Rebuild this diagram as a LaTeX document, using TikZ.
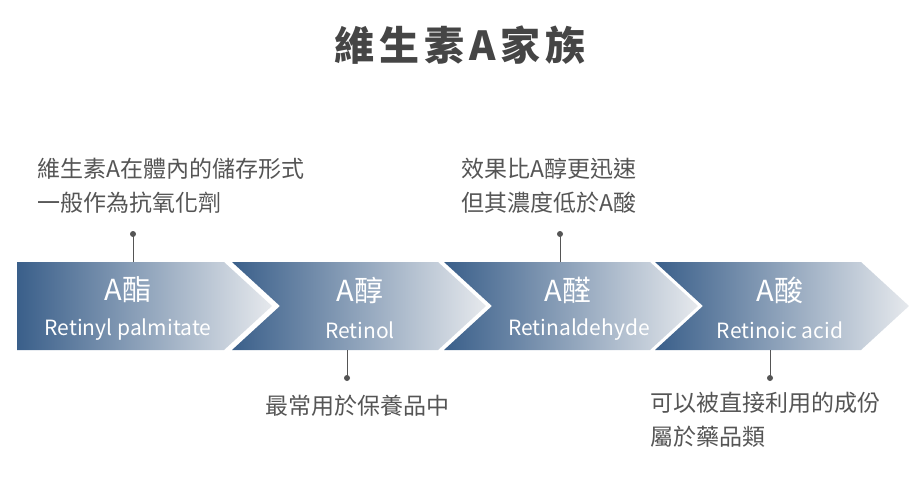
\documentclass[tikz,border=0pt]{standalone}
\usepackage{fontspec}
\setmainfont{Noto Sans CJK TC}
\usepackage{tikz}
\definecolor{chevdark}{HTML}{3A5F8A}
\definecolor{chevlight}{HTML}{E6E9ED}
\definecolor{notegray}{HTML}{555555}
\definecolor{titlegray}{HTML}{454545}

\begin{document}
\begin{tikzpicture}[x=1pt,y=-1pt,
  chev/.style={left color=chevdark,right color=chevlight,draw=none},
  chemname/.style={text=white,font=\fontsize{29}{32}\selectfont},
  latin/.style={text=white,font=\fontsize{21}{24}\selectfont},
  note/.style={text=notegray,font=\fontsize{23}{34}\selectfont,align=left,anchor=north west,inner sep=0pt},
  stem/.style={draw=notegray,line width=1pt},
  dot/.style={circle,fill=notegray,inner sep=0pt,minimum size=6pt}]
\useasboundingbox (0,0) rectangle (916,480);
\node (title) at (460,45) [text=titlegray,font=\fontsize{40}{44}\selectfont\bfseries\addfontfeature{LetterSpace=12}] {維生素A家族};
% chevrons
\shade [chev] (17,262) -- (224,262) -- (272,306) -- (224,350) -- (17,350) -- cycle;
\foreach \l in {232,444,655}
  \shade [chev] (\l,262) -- (\l+206,262) -- (\l+254,306) -- (\l+206,350) -- (\l,350) -- (\l+48,306) -- cycle;
\node (esterA) at (128,290) [chemname] {A酯};
\node (esterB) at (128,330) [latin] {Retinyl palmitate};
\node (alcA) at (360,290) [chemname] {A醇};
\node (alcB) at (360,330) [latin] {Retinol};
\node (aldA) at (568,290) [chemname] {A醛};
\node (aldB) at (579,330) [latin] {Retinaldehyde};
\node (acidA) at (780,290) [chemname] {A酸};
\node (acidB) at (780,330) [latin] {Retinoic acid};
% connectors
\coordinate (esterTop) at (133,262);
\coordinate (alcBot) at (347,350);
\coordinate (aldTop) at (560,262);
\coordinate (acidBot) at (770,350);
\node (dotA) at (133,234) [dot] {};
\node (dotB) at (347,378) [dot] {};
\node (dotC) at (560,234) [dot] {};
\node (dotD) at (770,378) [dot] {};
\draw [stem] (esterTop) -- (dotA.center);
\draw [stem] (alcBot) -- (dotB.center);
\draw [stem] (aldTop) -- (dotC.center);
\draw [stem] (acidBot) -- (dotD.center);
% notes
\node (noteA) at (37,158) [note] {維生素A在體內的儲存形式\\一般作為抗氧化劑};
\node (noteB) at (265,395) [note] {最常用於保養品中};
\node (noteC) at (461,158) [note] {效果比A醇更迅速\\但其濃度低於A酸};
\node (noteD) at (650,392) [note] {可以被直接利用的成份\\屬於藥品類};
\end{tikzpicture}
\end{document}
